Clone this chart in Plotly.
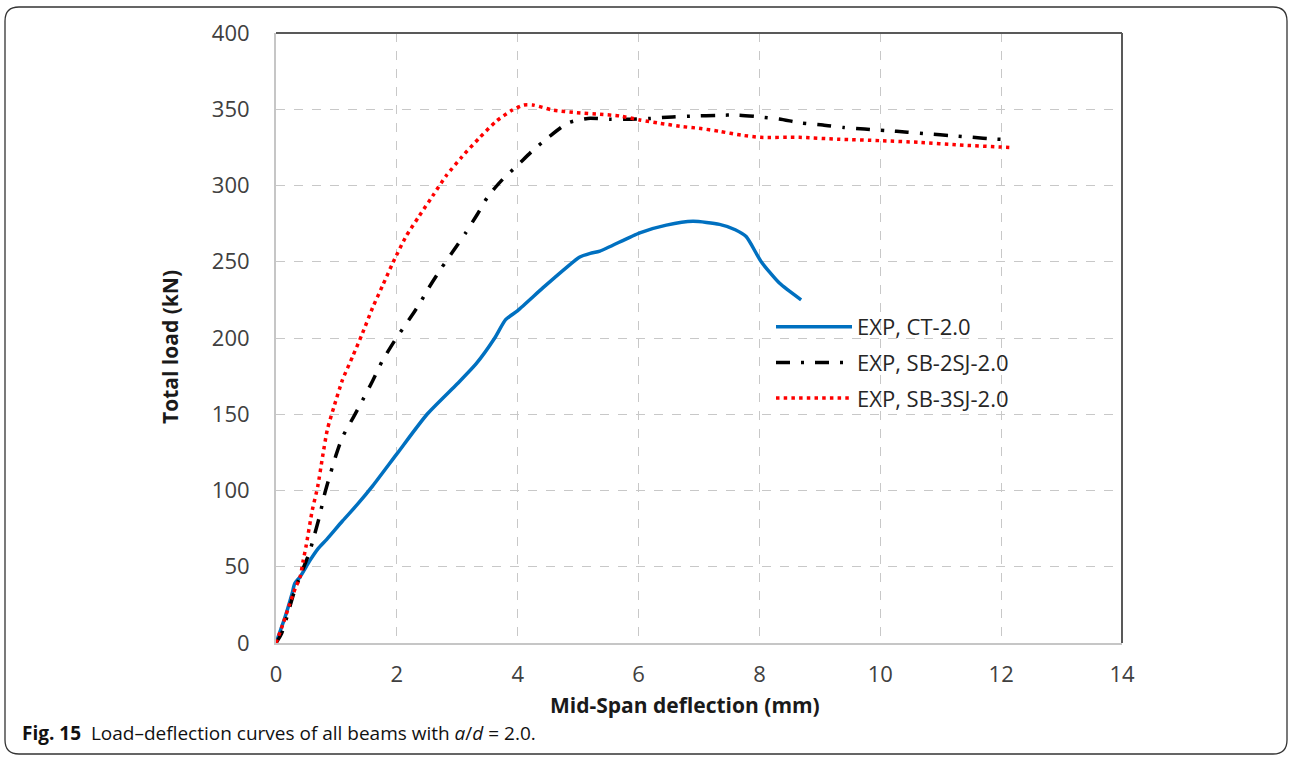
import plotly.graph_objects as go

# ---------------- data ----------------
ct_x = [0, 0.15, 0.27, 0.31, 0.4, 0.56, 0.7, 0.84, 1.1, 1.35, 1.6, 2.0, 2.5, 3.0, 3.31,
        3.62, 3.8, 4.0, 4.42, 4.8, 5.02, 5.2, 5.36, 6.02, 6.46, 6.9, 7.34, 7.6, 7.78,
        8.03, 8.33, 8.69]
ct_y = [0, 17, 33, 39, 43.5, 54, 62, 68, 80, 91, 103, 124, 150, 170, 183,
        200, 212, 218, 233, 246, 253, 255.5, 257, 269, 274, 276.5, 274.5, 271, 266.5,
        250, 236, 225]

sb2_x = [0, 0.09, 0.18, 0.29, 0.4, 0.55, 0.63, 0.72, 0.8, 0.9, 1.0, 1.1, 1.28, 1.43, 1.6,
         1.76, 1.96, 2.2, 2.37, 2.53, 2.74, 2.95, 3.14, 3.33, 3.51, 3.75, 3.99, 4.25,
         4.52, 4.83, 5.16, 5.52, 5.88, 6.2, 6.56, 6.93, 7.3, 7.64, 8.0, 8.33, 8.69,
         9.05, 9.4, 9.74, 10.09, 10.45, 10.81, 11.17, 11.53, 11.88, 12.0]
sb2_y = [0, 6, 17, 32, 44, 59, 70, 83, 97, 111, 124, 135, 148, 159, 172,
         185, 198, 212, 222, 233, 246, 258, 269, 281, 293, 304, 313, 323,
         332, 341, 344, 343.5, 343.5, 344, 345, 345.6, 346, 346.2, 345, 343.6, 341,
         339.7, 338, 337, 336, 335, 333.8, 332.7, 331.6, 330.5, 330.3]

sb3_x = [0, 0.12, 0.23, 0.32, 0.4, 0.45, 0.5, 0.6, 0.69, 0.77, 0.85, 0.96, 1.1, 1.27,
         1.43, 1.6, 1.76, 1.93, 2.15, 2.37, 2.59, 2.81, 3.08, 3.36, 3.64, 3.91, 4.1,
         4.25, 4.58, 4.97, 5.36, 5.69, 6.02, 6.35, 6.73, 7.0, 7.34, 7.7, 8.02, 8.66,
         9.32, 10.0, 10.64, 11.31, 12.0, 12.19]
sb3_y = [0, 13, 26, 36, 43.5, 54, 64, 87, 102.5, 122, 140, 155, 172.5, 188,
         203, 220, 234, 249, 266.5, 280, 293, 306, 319, 331, 342, 349.5, 352.8,
         352.8, 349.5, 347.8, 346.7, 345.6, 343, 340.8, 338.6, 337.5, 335.5, 333, 331.6, 331.6,
         330.3, 329.4, 328.3, 326.6, 325.2, 324.8]

series_names = ["EXP, CT-2.0", "EXP, SB-2SJ-2.0", "EXP, SB-3SJ-2.0"]
x_ticks = [0, 2, 4, 6, 8, 10, 12, 14]
y_ticks = [0, 50, 100, 150, 200, 250, 300, 350, 400]

# ---------------- layout geometry (pixels) ----------------
W, H = 1290, 757
L, R, T, B = 276, 1122, 33, 643
PW, PH = R - L, B - T


def px(xp):
    return (xp - L) / PW


def py(yp):
    return (B - yp) / PH


FONT = "Open Sans"

fig = go.Figure()
fig.add_trace(go.Scatter(x=ct_x, y=ct_y, mode="lines", name=series_names[0],
                         legendgroup="a",
                         line=dict(color="#0070C0", width=3.5, shape="spline", smoothing=0.6)))
fig.add_trace(go.Scatter(x=sb2_x, y=sb2_y, mode="lines", name=series_names[1],
                         legendgroup="b",
                         line=dict(color="#000000", width=3.5, dash="14px,11px,3px,11px",
                                   shape="spline", smoothing=0.6)))
fig.add_trace(go.Scatter(x=sb3_x, y=sb3_y, mode="lines", name=series_names[2],
                         legendgroup="c",
                         line=dict(color="#FF0000", width=3.5, dash="3.5px,4.2px",
                                   shape="spline", smoothing=0.6)))

axis_common = dict(
    showgrid=True, gridcolor="#c8c8c8", gridwidth=1, griddash="dash",
    zeroline=False, showline=True, linecolor="#c6c6c6", linewidth=2,
    ticks="", tickfont=dict(family=FONT, size=22, color="#404040"),
)

fig.update_xaxes(range=[0, 14], tickvals=x_ticks, ticklabelstandoff=11, **axis_common)
fig.update_yaxes(range=[0, 400], tickvals=y_ticks, ticklabelstandoff=20, **axis_common)

# rounded figure border
x0, x1 = px(5), px(1287)
yt, yb = py(7), py(754)
rx, ry = 14 / PW, 14 / PH
border = (f"M {x0+rx},{yt} L {x1-rx},{yt} Q {x1},{yt} {x1},{yt-ry} "
          f"L {x1},{yb+ry} Q {x1},{yb} {x1-rx},{yb} L {x0+rx},{yb} "
          f"Q {x0},{yb} {x0},{yb+ry} L {x0},{yt-ry} Q {x0},{yt} {x0+rx},{yt} Z")

shapes = [
    dict(type="path", xref="paper", yref="paper", path=border,
         line=dict(color="#333333", width=1.3), fillcolor="rgba(0,0,0,0)", layer="below"),
    # white backdrop of the legend box (hides gridlines, sits under the curves)
    dict(type="rect", xref="paper", yref="paper", x0=px(748), x1=px(1050),
         y0=py(415), y1=py(307), line=dict(width=0), fillcolor="white", layer="between"),
    dict(type="line", xref="paper", yref="paper", x0=0, x1=1, y0=1, y1=1,
         line=dict(color="#595959", width=2)),
    dict(type="line", xref="paper", yref="paper", x0=1, x1=1, y0=0, y1=1,
         line=dict(color="#595959", width=2)),
]

annotations = [
    dict(text="<b>Mid-Span deflection (mm)</b>", xref="paper", yref="paper",
         x=px(685), y=py(705), xanchor="center", yanchor="middle", showarrow=False,
         font=dict(family=FONT, size=21, color="#1a1a1a")),
    dict(text="<b>Total load (kN)</b>", xref="paper", yref="paper",
         x=px(170), y=py(347), xanchor="center", yanchor="middle", showarrow=False,
         textangle=-90, font=dict(family=FONT, size=21, color="#1a1a1a")),
    dict(text="<b>Fig. 15</b>  Load–deflection curves of all beams with <i>a</i>/<i>d</i> = 2.0.",
         xref="paper", yref="paper", x=px(20), y=py(733), xanchor="left", yanchor="middle",
         showarrow=False, font=dict(family=FONT, size=19, color="#111111")),
]

fig.update_layout(
    width=W, height=H,
    margin=dict(l=L, r=W - R, t=T, b=H - B, pad=0),
    paper_bgcolor="white", plot_bgcolor="white",
    font=dict(family=FONT),
    showlegend=True,
    legend=dict(x=px(771), y=py(306), xanchor="left", yanchor="top",
                bgcolor="rgba(0,0,0,0)", borderwidth=0, itemwidth=76,
                tracegroupgap=4, traceorder="grouped",
                font=dict(family=FONT, size=22, color="#262626")),
    shapes=shapes, annotations=annotations,
)

fig.write_html("out.html")
